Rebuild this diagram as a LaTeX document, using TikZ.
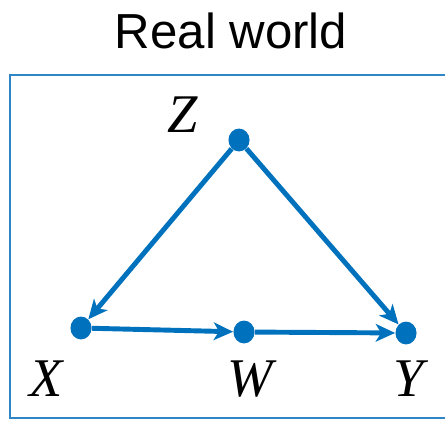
\documentclass[tikz,border=0pt]{standalone}
\usepackage{fontspec}
\setmainfont{Liberation Serif}
\setsansfont{Liberation Sans}
\usetikzlibrary{arrows.meta,shapes.geometric}
\definecolor{dotblue}{HTML}{0072BD}
\definecolor{boxblue}{HTML}{2F86C6}
\tikzset{
  var/.style={ellipse, fill=dotblue, inner sep=0pt, minimum width=12pt, minimum height=13pt},
  varlabel/.style={font=\fontsize{31}{33}\selectfont\itshape},
  edge/.style={dotblue, line width=2.8pt, -{Stealth[length=11pt, width=10pt, inset=3pt]}}
}
\begin{document}
\begin{tikzpicture}[x=0.02cm, y=-0.02cm]
  \useasboundingbox (0,0) rectangle (445,420);
  % 제목
  \node[font=\sffamily\fontsize{28}{30}\selectfont] (title) at (231,31) {Real world};
  % 테두리
  \draw[boxblue, line width=1.1pt] (447,75) -- (10,75) -- (10,418) -- (447,418);
  % 변수
  \node[var] (z) at (239,140) {};
  \node[var] (x) at (81,328) {};
  \node[var] (w) at (244,332) {};
  \node[var] (y) at (406,333) {};
  \node[varlabel] (zl) at (183,115) {Z};
  \node[varlabel] (xl) at (46,379) {X};
  \node[varlabel] (wl) at (250,379) {W};
  \node[varlabel] (yl) at (409,379) {Y};
  % 화살표
  \draw[edge] (z) -- (x);
  \draw[edge] (z) -- (y);
  \draw[edge] (x) -- (w);
  \draw[edge] (w) -- (y);
\end{tikzpicture}
\end{document}
